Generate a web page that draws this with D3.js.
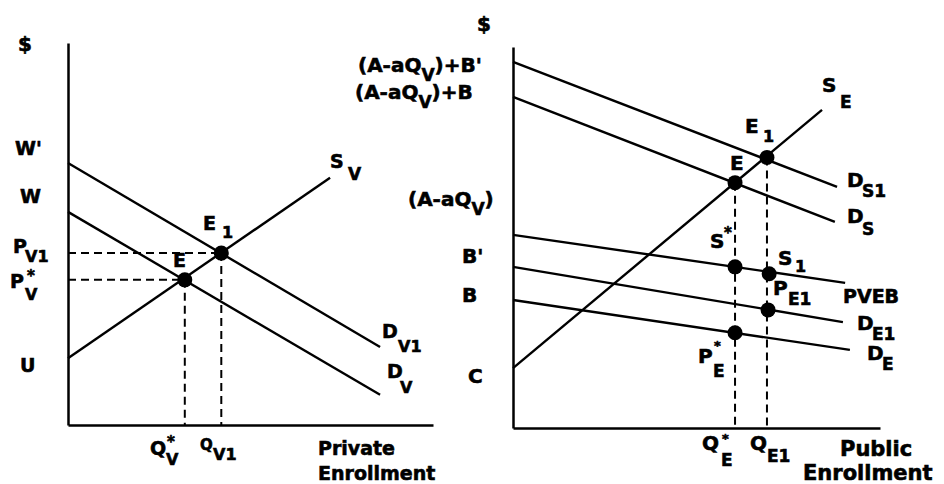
<!DOCTYPE html>
<html lang="en">
  <head>
    <meta charset="UTF-8" />
    <title>Private and Public Enrollment</title>
    <script src="https://d3js.org/d3.v7.min.js"></script>
    <style>
      body { margin: 0; background: #fff; }
      text { font-family: "DejaVu Sans", sans-serif; font-weight: bold; fill: #000; stroke: #000; stroke-width: 0.6; }
      .curve { stroke: #000; stroke-width: 2.4; fill: none; }
      .guide { stroke: #000; stroke-width: 2; stroke-dasharray: 8 5; fill: none; }
      .axis path { stroke: #000; stroke-width: 2.5; }
    </style>
  </head>
  <body>
    <svg id="chart" width="944" height="484"></svg>

    <script>
      // Private market (left panel), values in abstract units 0-10
      var privDemandV1 = [[0, 6.86], [8.55, 2.04]];
      var privDemandV = [[0, 5.58], [8.55, 0.79]];
      var privSupplyV = [[0, 1.75], [7.18, 6.47]];
      var privEquilibria = [[3.2, 3.8], [4.2, 4.5]]; // E, E1

      // Public market (right panel)
      var pubDemandS1 = [[0, 9.61], [8.83, 6.33]];
      var pubDemandS = [[0, 8.69], [8.77, 5.41]];
      var pubSupplyE = [[0, 1.57], [8.42, 8.35]];
      var pubPVEB = [[0, 5.07], [9.05, 3.81]];
      var pubDemandE1 = [[0, 4.23], [8.99, 2.78]];
      var pubDemandE = [[0, 3.36], [9.18, 2.05]];
      var pubEquilibria = [[6.05, 6.44], [6.92, 7.1]]; // E, E1
      var pubPoints = [[6.05, 4.23], [6.98, 4.05], [6.95, 3.1], [6.05, 2.5]]; // S*, S1, PE1, P*E

      var svg = d3.select("#chart");

      var xL = d3.scaleLinear().domain([0, 10]).range([68, 433]);
      var yL = d3.scaleLinear().domain([0, 10]).range([425, 43]);
      var xR = d3.scaleLinear().domain([0, 10]).range([513, 880]);
      var yR = d3.scaleLinear().domain([0, 10]).range([428, 47]);

      function drawPanel(x, y, curves, eq, dots, dashToAxis) {
        var g = svg.append("g");
        var line = d3.line()
          .x(function (d) { return x(d[0]); })
          .y(function (d) { return y(d[1]); });

        // dashed guides
        eq.forEach(function (p) {
          g.append("path").attr("class", "guide")
            .attr("d", line([[p[0], p[1]], [p[0], 0]]));
          if (dashToAxis) {
            g.append("path").attr("class", "guide")
              .attr("d", line([[0, p[1]], [p[0], p[1]]]));
          }
        });

        g.selectAll(".curve")
          .data(curves)
          .enter()
          .append("path")
          .attr("class", "curve")
          .attr("d", line);

        // axes
        g.append("g").attr("class", "axis")
          .attr("transform", "translate(0," + y(0) + ")")
          .call(d3.axisBottom(x).ticks(0).tickSizeOuter(0));
        g.append("g").attr("class", "axis")
          .attr("transform", "translate(" + x(0) + ",0)")
          .call(d3.axisLeft(y).ticks(0).tickSizeOuter(0));

        g.selectAll(".dot")
          .data(eq.concat(dots))
          .enter()
          .append("circle")
          .attr("cx", function (d) { return x(d[0]); })
          .attr("cy", function (d) { return y(d[1]); })
          .attr("r", 7.5)
          .attr("fill", "#000");
      }

      drawPanel(xL, yL, [privDemandV1, privDemandV, privSupplyV], privEquilibria, [], true);
      drawPanel(xR, yR, [pubDemandS1, pubDemandS, pubSupplyE, pubPVEB, pubDemandE1, pubDemandE],
        pubEquilibria, pubPoints, false);

      // one text per label, pieces = [x, baseline, text, size]
      function lab(pieces) {
        var txt = svg.append("text");
        pieces.forEach(function (p) {
          txt.append("tspan").attr("x", p[0]).attr("y", p[1])
            .style("font-size", p[3] + "px").text(p[2]);
        });
      }

      // left panel
      lab([[18, 51, "$", 20]]);
      lab([[15, 155, "W'", 19]]);
      lab([[20, 203, "W", 19]]);
      lab([[13, 253, "P", 19], [25, 262, "V1", 16]]);
      lab([[10, 288, "P", 19], [27, 281, "*", 15], [25, 300, "V", 16]]);
      lab([[20, 372, "U", 19]]);
      lab([[330, 168, "S", 19], [348, 180, "V", 17]]);
      lab([[203, 230, "E", 19], [222, 238, "1", 16]]);
      lab([[173, 267, "E", 19]]);
      lab([[382, 338, "D", 19], [398, 352, "V1", 16]]);
      lab([[387, 378, "D", 19], [400, 393, "V", 16]]);
      lab([[150, 455, "Q", 19], [167, 447, "*", 15], [166, 465, "V", 16]]);
      lab([[200, 450, "Q", 15], [213, 460, "V1", 16]]);
      lab([[318, 455, "Private", 19], [318, 480, "Enrollment", 19]]);

      // right panel
      function formula(xp, yp, tail) {
        var txt = svg.append("text").attr("x", xp).attr("y", yp).style("font-size", "20px");
        txt.append("tspan").text("(A-aQ");
        txt.append("tspan").attr("dy", 9).style("font-size", "17px").text("V");
        txt.append("tspan").attr("dy", -9).text(")" + tail);
      }
      lab([[477, 31, "$", 20]]);
      formula(358, 72, "+B'");
      formula(355, 99, "+B");
      formula(408, 206, "");
      lab([[462, 263, "B'", 20]]);
      lab([[462, 302, "B", 20]]);
      lab([[468, 383, "C", 20]]);
      lab([[822, 92, "S", 20], [840, 108, "E", 17]]);
      lab([[745, 133, "E", 20], [763, 142, "1", 16]]);
      lab([[730, 170, "E", 20]]);
      lab([[847, 187, "D", 20], [862, 197, "S1", 17]]);
      lab([[847, 223, "D", 20], [862, 235, "S", 17]]);
      lab([[710, 248, "S", 20], [724, 238, "*", 15]]);
      lab([[778, 265, "S", 20], [795, 272, "1", 16]]);
      lab([[773, 295, "P", 20], [788, 305, "E1", 17]]);
      lab([[843, 303, "PVEB", 19]]);
      lab([[857, 330, "D", 20], [872, 340, "E1", 17]]);
      lab([[867, 360, "D", 20], [882, 370, "E", 17]]);
      lab([[698, 363, "P", 20], [714, 350, "*", 13], [713, 377, "E", 17]]);
      lab([[702, 450, "Q", 20], [722, 443, "*", 13], [721, 466, "E", 17]]);
      lab([[750, 450, "Q", 20], [767, 462, "E1", 17]]);
      lab([[840, 456, "Public", 21], [803, 480, "Enrollment", 21]]);
    </script>
  </body>
</html>
